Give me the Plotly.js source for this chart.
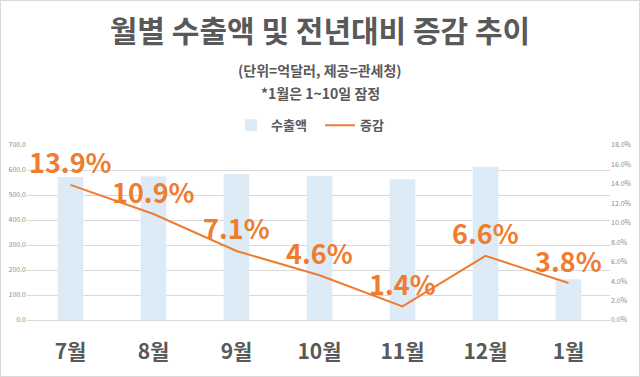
<!DOCTYPE html>
<html><head><meta charset="utf-8">
<script src="https://cdn.plot.ly/plotly-3.0.1.min.js"></script>
<style>
html,body{margin:0;padding:0;background:#fff;}
#wrap{position:relative;width:640px;height:377px;}
#chart{width:640px;height:377px;}
#frame{position:absolute;left:0;top:0;width:638px;height:375px;border:1px solid #d9d9d9;pointer-events:none;}
</style></head>
<body>
<div id="wrap"><div id="chart"></div><div id="frame"></div></div>
<script>
const months = ['7월','8월','9월','10월','11월','12월','1월'];
const exports = [572, 575, 584, 576, 563, 613, 163];
const changes = [13.9, 10.9, 7.1, 4.6, 1.4, 6.6, 3.8];
const changeLabels = ['13.9%','10.9%','7.1%','4.6%','1.4%','6.6%','3.8%'];

const F = 'Noto Sans CJK KR, Noto Sans, sans-serif';
const gray = '#595959';
const orange = '#ED7D31';

const traces = [
  {type:'bar', name:'<b>수출액</b>', x:months, y:exports, yaxis:'y', width:0.31,
   marker:{color:'#DDEBF7'}, hoverinfo:'skip'},
  {type:'scatter', mode:'lines', name:'<b>증감</b>', x:months, y:changes, yaxis:'y2',
   line:{color:orange, width:2}, hoverinfo:'skip'}
];

const annotations = changes.map((v,i)=>({
  x: months[i], y: v, xref:'x', yref:'y2', text: changeLabels[i], showarrow:false,
  yshift: 23, font:{family:F, size:27, color:orange, weight:'bold'}
}));
annotations.push(
  {xref:'paper', yref:'paper', x:0.5026, y:1.426, text:'<b>(단위=억달러, 제공=관세청)</b>', showarrow:false,
   font:{family:F, size:14, color:gray}, yanchor:'middle'},
  {xref:'paper', yref:'paper', x:0.5026, y:1.30, text:'<b>*1월은 1~10일 잠정</b>', showarrow:false,
   font:{family:F, size:14, color:gray}, yanchor:'middle'}
);

const layout = {
  width:640, height:377,
  margin:{l:27, r:30, t:145, b:57},
  paper_bgcolor:'#fff', plot_bgcolor:'#fff',
  title:{text:'<b>월별 수출액 및 전년대비 증감 추이</b>', font:{family:F, size:30, color:gray},
         x:0.5, xref:'container', y:1-31/377, yref:'container', yanchor:'middle', xanchor:'center'},
  showlegend:true,
  legend:{orientation:'h', x:0.5026, xanchor:'center', y:1.112, yanchor:'middle',
          font:{family:F, size:13, color:gray}, itemwidth:30, traceorder:'normal',
          entrywidth:44, entrywidthmode:'pixels'},
  xaxis:{type:'category', showgrid:false, showline:false, zeroline:false,
         tickfont:{family:F, size:21, color:gray, weight:'bold'}, ticklabelstandoff:17, ticks:''},
  yaxis:{range:[0,700], dtick:100, tickformat:'.1f', showgrid:true, gridcolor:'#d9d9d9', gridwidth:1,
         zeroline:true, zerolinecolor:'#d9d9d9', showline:false, fixedrange:true,
         tickfont:{family:F, size:7, color:'#8c8c8c'}},
  yaxis2:{range:[0,18], dtick:2, overlaying:'y', side:'right', showgrid:false, zeroline:false,
          tickformat:'.1f', ticksuffix:'%', showline:false,
          tickfont:{family:F, size:7, color:'#8c8c8c'}},
  annotations: annotations
};

Plotly.newPlot('chart', traces, layout, {displayModeBar:false, staticPlot:true});
</script>
</body></html>
